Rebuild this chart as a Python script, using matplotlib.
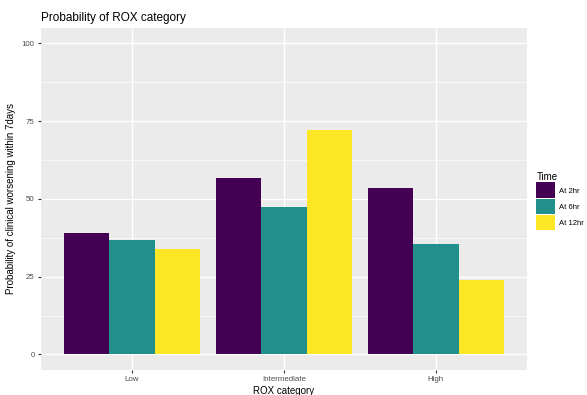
import numpy as np
import matplotlib.pyplot as plt
from matplotlib.patches import Patch

plt.rcParams['font.family'] = ['Liberation Sans', 'DejaVu Sans']

categories = ['Low', 'Intermediate', 'High']
times = ['At 2hr', 'At 6hr', 'At 12hr']
at_2hr = [39.1, 56.7, 53.4]
at_6hr = [36.9, 47.5, 35.5]
at_12hr = [34.0, 72.2, 24.1]
colors = ['#440154', '#21908C', '#FDE725']

fig = plt.figure(figsize=(5.87, 3.95), dpi=100)
ax = fig.add_axes([0.0698, 0.0633, 0.828, 0.866])
ax.set_facecolor('#EBEBEB')

x = np.arange(1, len(categories) + 1)
w = 0.3
for i, vals in enumerate([at_2hr, at_6hr, at_12hr]):
    ax.bar(x + (i - 1) * w, vals, width=w, color=colors[i], zorder=3)

ax.set_xlim(0.4, 3.6)
ax.set_ylim(-5, 105)
ax.set_xticks(x)
ax.set_xticklabels(categories)
ax.set_yticks([0, 25, 50, 75, 100])
ax.set_yticks([12.5, 37.5, 62.5, 87.5], minor=True)
ax.grid(True, which='major', color='white', linewidth=1.0, zorder=0)
ax.grid(True, which='minor', axis='y', color='white', linewidth=0.5, zorder=0)
ax.set_axisbelow(True)
for s in ax.spines.values():
    s.set_visible(False)
ax.tick_params(axis='both', which='major', length=2.5, color='#333333',
               labelsize=5.7, labelcolor='#4D4D4D', pad=2)
ax.tick_params(axis='y', which='minor', length=0)

ax.set_xlabel('ROX category', fontsize=7, labelpad=2)
ax.set_ylabel('Probability of clinical worsening within 7days', fontsize=7, labelpad=4)
ax.set_title('Probability of ROX category', fontsize=8.5, loc='left', pad=5)

handles = [Patch(facecolor=c, edgecolor='none') for c in colors]
leg = fig.legend(handles, times, title='Time', loc='upper left',
                 bbox_to_anchor=(0.902, 0.582), frameon=False, fontsize=5.5,
                 title_fontsize=7, handlelength=2.4, handleheight=2.8,
                 handletextpad=0.6, labelspacing=0.05)
leg._legend_box.align = 'left'

fig.savefig('out.png', dpi=100)
